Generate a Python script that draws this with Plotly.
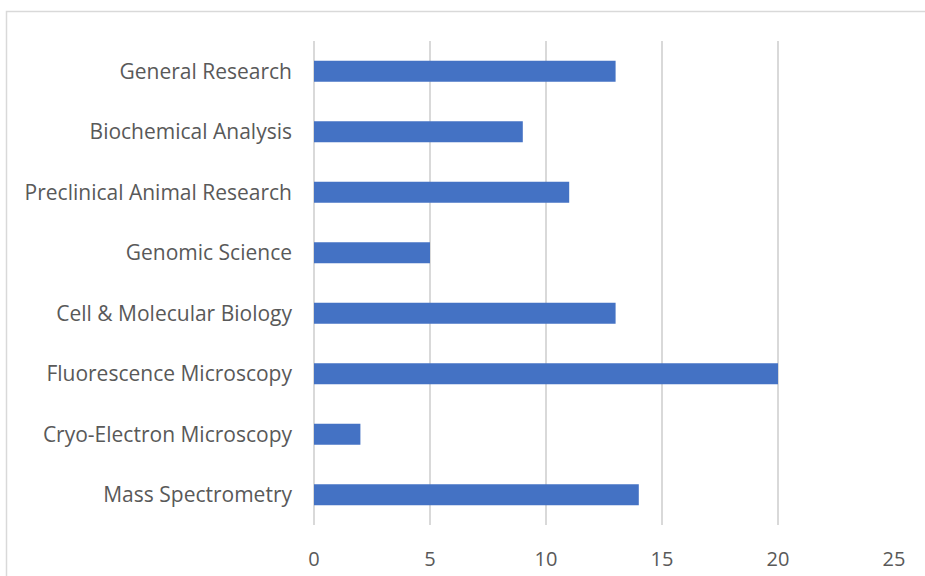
import plotly.graph_objects as go

categories = [
    "General Research",
    "Biochemical Analysis",
    "Preclinical Animal Research",
    "Genomic Science",
    "Cell & Molecular Biology",
    "Fluorescence Microscopy",
    "Cryo-Electron Microscopy",
    "Mass Spectrometry",
]
values = [13, 9, 11, 5, 13, 20, 2, 14]
x_ticks = [0, 5, 10, 15, 20, 25]

fig = go.Figure(
    go.Bar(
        y=categories,
        x=values,
        orientation="h",
        marker=dict(color="#4472C4", line=dict(width=0)),
        hoverinfo="x+y",
    )
)

fig.update_layout(
    width=925,
    height=576,
    margin=dict(l=314, r=31, t=41, b=51, autoexpand=False),
    paper_bgcolor="white",
    plot_bgcolor="white",
    bargap=0.65,
    showlegend=False,
    font=dict(family="Open Sans", size=21, color="#595959"),
    shapes=[
        dict(
            type="rect",
            xref="paper",
            yref="paper",
            x0=(6.5 - 314) / 580,
            x1=1.3,
            y0=-0.3,
            y1=1 + (41 - 11.5) / 484,
            line=dict(color="#d9d9d9", width=1.5),
            fillcolor="rgba(0,0,0,0)",
            layer="below",
        )
    ],
)

fig.update_xaxes(
    range=[0, 25],
    tickvals=x_ticks,
    tickfont=dict(size=20),
    showgrid=True,
    gridcolor="#d9d9d9",
    gridwidth=1.5,
    zeroline=True,
    zerolinecolor="#d9d9d9",
    zerolinewidth=1.5,
    showline=False,
    ticks="",
    ticklabelstandoff=20,
    automargin=False,
    fixedrange=True,
)
fig.update_yaxes(
    autorange="reversed",
    tickfont=dict(size=21),
    showgrid=False,
    showline=False,
    ticks="",
    ticklabelstandoff=21,
    automargin=False,
    fixedrange=True,
)

fig.write_html(
    "out.html",
    config={"displayModeBar": False},
    post_script="document.body.style.margin='0';document.body.style.overflow='hidden';",
)
